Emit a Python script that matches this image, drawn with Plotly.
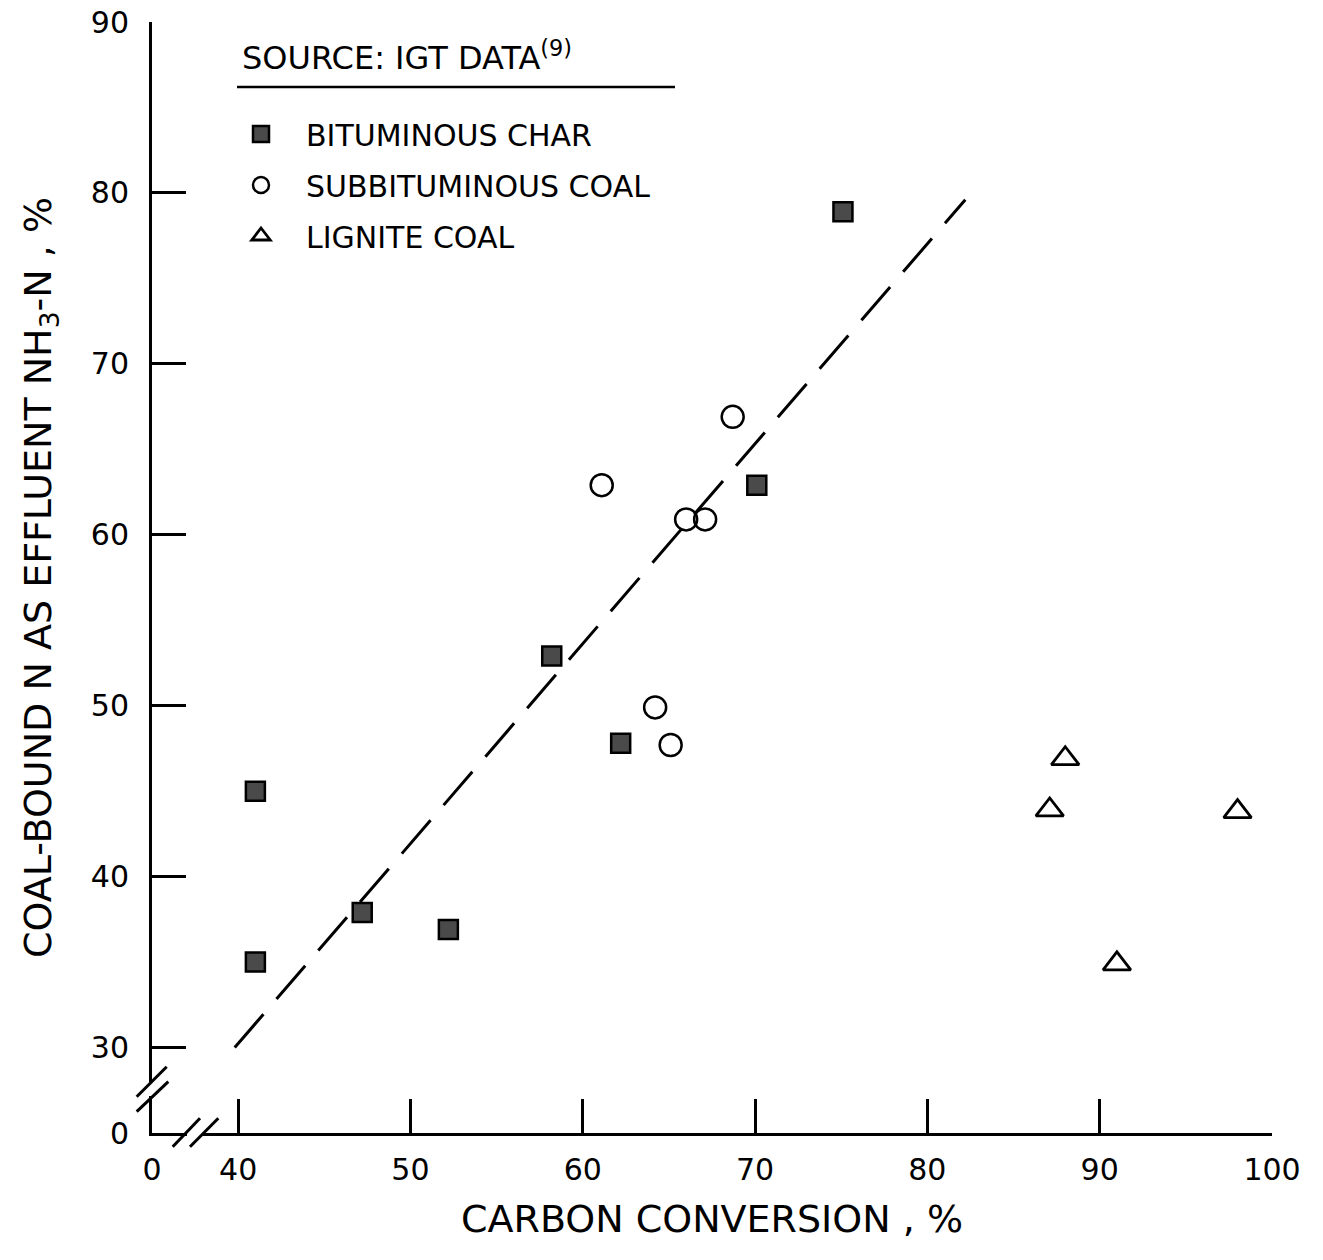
import plotly.graph_objects as go

# ---- data ----
bit_x = [41.0, 41.0, 47.2, 52.2, 58.2, 62.2, 70.1, 75.1]
bit_y = [45.0, 35.0, 37.9, 36.9, 52.9, 47.8, 62.9, 78.9]
sub_x = [61.1, 66.0, 67.1, 68.7, 64.2, 65.1]
sub_y = [62.9, 60.9, 60.9, 66.9, 49.9, 47.7]
lig_x = [88.0, 87.1, 98.0, 91.0]
lig_y = [46.9, 43.9, 43.8, 34.9]
fit_x = [39.8, 82.2]
fit_y = [30.0, 79.6]

x_tickvals = [35, 40, 50, 60, 70, 80, 90, 100]
x_ticktext = ["0", "40", "50", "60", "70", "80", "90", "100"]
y_tickvals = [25, 30, 40, 50, 60, 70, 80, 90]
y_ticktext = ["0", "30", "40", "50", "60", "70", "80", "90"]

FONT = "DejaVu Sans"
W, H = 1323, 1260
L, R, T, B = 152, 51, 22, 127
PW, PH = W - L - R, H - T - B


def px(xp):
    return (xp - L) / PW


def py(yp):
    return (H - B - yp) / PH


fig = go.Figure()
fig.add_trace(go.Scatter(x=fit_x, y=fit_y, mode="lines", showlegend=False,
                         line=dict(color="black", width=3, dash="44px,20px")))
fig.add_trace(go.Scatter(x=bit_x, y=bit_y, mode="markers", name="BITUMINOUS CHAR",
                         legendgroup="a",
                         marker=dict(symbol="square", size=19, color="#4a4a4a",
                                     line=dict(color="black", width=2.5))))
fig.add_trace(go.Scatter(x=sub_x, y=sub_y, mode="markers", name="SUBBITUMINOUS COAL",
                         legendgroup="b",
                         marker=dict(symbol="circle-open", size=22, color="black",
                                     line=dict(color="black", width=2.5))))
fig.add_trace(go.Scatter(x=lig_x, y=lig_y, mode="markers", name="LIGNITE COAL",
                         legendgroup="c",
                         marker=dict(symbol="triangle-up-open", size=24, color="black",
                                     line=dict(color="black", width=2.8))))

axis_common = dict(showline=True, linewidth=3, linecolor="black", ticks="inside",
                   ticklen=34, tickwidth=2.5, tickcolor="black", showgrid=False,
                   zeroline=False, mirror=False, automargin=False,
                   tickfont=dict(family=FONT, size=30, color="black"))

fig.update_layout(
    template="none",
    width=W, height=H, autosize=False,
    margin=dict(l=L, r=R, t=T, b=B),
    paper_bgcolor="white", plot_bgcolor="white",
    font=dict(family=FONT, color="black"),
    xaxis=dict(range=[35, 100], tickvals=x_tickvals, ticktext=x_ticktext,
               ticklabelstandoff=8,
               title=dict(text="CARBON CONVERSION , %", standoff=20,
                          font=dict(family=FONT, size=38, color="black")),
               **axis_common),
    yaxis=dict(range=[25, 90], tickvals=y_tickvals, ticktext=y_ticktext,
               ticklabelstandoff=14,
               title=dict(text="COAL-BOUND N AS EFFLUENT NH<sub>3</sub>-N , %", standoff=28,
                          font=dict(family=FONT, size=38, color="black")),
               **axis_common),
    legend=dict(x=px(216), y=py(108), xanchor="left", yanchor="top",
                bgcolor="rgba(0,0,0,0)", borderwidth=0, itemwidth=80,
                traceorder="grouped", tracegroupgap=9,
                font=dict(family=FONT, size=30, color="black")),
    showlegend=True,
)

fig.add_annotation(xref="paper", yref="paper", x=px(240), y=py(56),
                   xanchor="left", yanchor="middle", showarrow=False,
                   text="SOURCE: IGT DATA<sup>(9)</sup>",
                   font=dict(family=FONT, size=32, color="black"))

shapes = []
# legend title underline
shapes.append(dict(type="line", xref="paper", yref="paper", x0=px(237), x1=px(675),
                   y0=py(87), y1=py(87), line=dict(color="black", width=2.5)))
# axis break gaps (white) and slashes
shapes.append(dict(type="line", xref="paper", yref="paper", x0=px(152), x1=px(152),
                   y0=py(1082), y1=py(1096), line=dict(color="white", width=6)))
shapes.append(dict(type="line", xref="paper", yref="paper", x0=px(187), x1=px(203),
                   y0=py(1133), y1=py(1133), line=dict(color="white", width=6)))
for (a, b, c, d) in [(136.7, 1096.7, 166.7, 1066.7), (136.7, 1111.7, 168.3, 1081.7),
                     (172.7, 1146.7, 200.0, 1118.3), (190.0, 1146.7, 218.3, 1118.3)]:
    shapes.append(dict(type="line", xref="paper", yref="paper", x0=px(a), y0=py(b),
                       x1=px(c), y1=py(d), line=dict(color="black", width=3)))
fig.update_layout(shapes=shapes)

fig.write_html("out.html")
